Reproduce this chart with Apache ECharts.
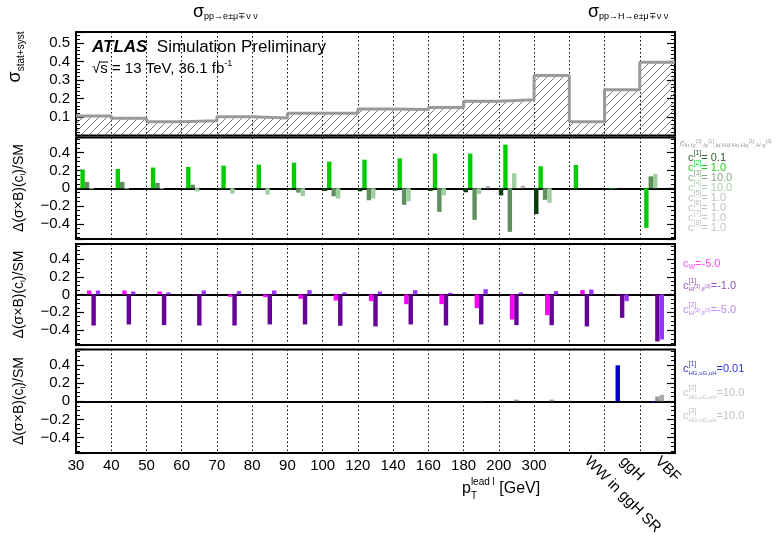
<!DOCTYPE html>
<html><head><meta charset="utf-8">
<script src="https://cdn.jsdelivr.net/npm/echarts@6/dist/echarts.min.js"></script>
<style>html,body{margin:0;padding:0;background:#fff}#c{width:783px;height:537px}</style>
</head><body><div id="c"></div>
<script>
// ---------------- DATA ----------------
const categories = ['30-40','40-50','50-60','60-70','70-80','80-90','90-100','100-120','120-140','140-160','160-180','180-200','200-300','300+','WW in ggH SR','ggH','VBF'];
const ptTickLabels = ['30','40','50','60','70','80','90','100','120','140','160','180','200','300'];
const sigmaStatSyst = [0.105,0.093,0.075,0.080,0.102,0.095,0.120,0.120,0.143,0.141,0.152,0.185,0.194,0.325,0.075,0.248,0.397];

// panel 2: c_{lu,lq(3),lq(1),ld,Hd,Hu,Hq(1),Hq(3)}
const cLu1 = [-0.003,-0.003,-0.004,-0.010,-0.011,-0.015,-0.020,-0.030,-0.034,-0.026,-0.030,-0.045,-0.080,-0.290,-0.010,-0.005,-0.012];
const cLu2 = [0.209,0.217,0.232,0.240,0.254,0.265,0.288,0.299,0.321,0.336,0.389,0.389,0.490,0.247,0.262,-0.008,-0.445];
const cLu3 = [0.071,0.071,0.060,0.040,-0.005,-0.005,-0.049,-0.090,-0.135,-0.187,-0.265,-0.355,-0.490,-0.130,0.000,-0.004,0.134];
const cLu4 = [-0.010,-0.010,-0.010,-0.037,-0.060,-0.071,-0.090,-0.116,-0.116,-0.146,-0.080,-0.064,0.168,-0.164,0.000,0.000,0.160];
const cLu5 = [0,0,0,0,0,0,0,0,0,0,0,0.004,0.004,0,0,0,0];
const cLu6 = [0,0,0,0,0,0,0,0,0,0,0,0.025,0.030,0,0,0,0];
const cLu7 = [0,0,0,0,0,0,0,0,0,0,0,0,0,0,0,0,0];
const cLu8 = [0,0,0,0,0,0,0,0,0,0,0,0,0,0,0,0,0];
const lg2Values = ['0.1','1.0','10.0','10.0','1.0','1.0','1.0','1.0'];

// panel 3
const cW   = [0.045,0.045,0.034,-0.005,-0.026,-0.030,-0.049,-0.068,-0.075,-0.109,-0.109,-0.154,-0.282,-0.233,0.049,-0.005,-0.005];
const cHl1 = [-0.350,-0.338,-0.346,-0.350,-0.350,-0.338,-0.338,-0.353,-0.360,-0.338,-0.350,-0.338,-0.346,-0.346,-0.360,-0.263,-0.530];
const cHl2 = [0.045,0.034,0.023,0.045,0.038,0.045,0.049,0.023,0.034,0.049,0.019,0.060,0.023,0.038,0.056,-0.075,-0.508];

// panel 4
const cHG1 = [0.003,0,0,0,0,0,0,0,0,0,0,0,0,0,0,0.396,-0.012];
const cHG2 = [0,0,0,0,0,0,0,0,0,0,0,0.005,0.018,0.018,0,0,0.052];
const cHG3 = [0,0,0,0,0,0,0,0,0,0,0,0,0,0,0,0,0.070];

// ---------------- RENDER ----------------
const FONT = '"Liberation Sans", Arial, Helvetica, sans-serif';
const chart = echarts.init(document.getElementById('c'), null, {renderer:'canvas', width:783, height:537});

const mctx = document.createElement('canvas').getContext('2d');
function mw(t, s, o) { o = o || {}; mctx.font = (o.fontStyle||'') + ' ' + (o.fontWeight||'') + ' ' + s + 'px ' + FONT; return mctx.measureText(t).width; }
function compose(x, y, color, parts) {
  const els = []; let cx = x;
  for (const p of parts) {
    els.push({type:'text', x:cx, y:y + (p.dy||0), silent:true,
      style:Object.assign({text:p.t, fontSize:p.s, fontFamily:FONT, fill:p.c||color, align:'left', verticalAlign:'middle'}, p.o||{})});
    if (p.adv !== false) cx += mw(p.t, p.s, p.o);
  }
  return {els, width: cx - x};
}
const gfx = [];
function add(x, y, color, parts) { gfx.push(...compose(x, y, color, parts).els); }
function addRot(cx, cy, color, parts) {
  const r = compose(0, 0, color, parts);
  r.els.forEach(e => e.x -= r.width/2);
  gfx.push({type:'group', x:cx, y:cy, rotation:Math.PI/2, children:r.els});
}

// hatch pattern
const hatch = document.createElement('canvas'); hatch.width = 8; hatch.height = 8;
const hc = hatch.getContext('2d'); hc.strokeStyle = '#555'; hc.lineWidth = 0.8;
hc.beginPath(); hc.moveTo(0,8); hc.lineTo(8,0); hc.moveTo(-2,2); hc.lineTo(2,-2); hc.moveTo(6,10); hc.lineTo(10,6); hc.stroke();

const gridBase = {left:76, right:108, show:true, borderColor:'#000', borderWidth:2, backgroundColor:'rgba(0,0,0,0)', containLabel:false, outerBoundsMode:'none'};
const grids = [
  Object.assign({top:32, height:103.5}, gridBase),
  Object.assign({top:137.5, height:101.5}, gridBase),
  Object.assign({top:244, height:101}, gridBase),
  Object.assign({top:349.5, height:103.5}, gridBase)
];
const dotted = {show:true, interval:0, lineStyle:{color:'#000', width:1, type:[1.5,2.5]}};

const fmtTop = v => (v > 0.05 && Math.abs(v*10 - Math.round(v*10)) < 1e-6) ? v.toFixed(1) : '';
const fmtLow = v => { const k = v/0.2; if (Math.abs(k - Math.round(k)) > 1e-6) return ''; const r = Math.round(k)*0.2; if (Math.abs(r) < 1e-9) return '0'; return (r < 0 ? '\u2212' : '') + Math.abs(r).toFixed(1); };

function yPair(gi, min, max, fmt, interval, minorSplit) {
  const base = {type:'value', gridIndex:gi, min, max,
    axisLine:{show:false, onZero:false},
    axisTick:{show:true, inside:true, length:8, lineStyle:{color:'#000', width:1.2}},
    minorTick:{show:true, splitNumber:minorSplit, length:4, lineStyle:{color:'#000', width:1}},
    splitLine:{show:false}, minorSplitLine:{show:false}};
  if (interval) base.interval = interval; else base.splitNumber = 5;
  return [
    Object.assign({position:'left', axisLabel:{formatter:fmt, fontSize:15, color:'#000', margin:6, fontFamily:FONT}}, base),
    Object.assign({position:'right', axisLabel:{show:false}}, base)
  ];
}
const yAxes = [].concat(
  yPair(0, 0, 0.56, fmtTop, 0.1, 5),
  yPair(1, -0.57, 0.57, fmtLow, null, 4),
  yPair(2, -0.57, 0.57, fmtLow, null, 4),
  yPair(3, -0.57, 0.57, fmtLow, null, 4)
);
function catAxis(gi) {
  return {type:'category', gridIndex:gi, data:categories, boundaryGap:true,
    axisLine:{show:true, onZero:true, lineStyle:{color:'#000', width:2}},
    axisTick:{show:false}, axisLabel:{show:false}, splitLine:dotted};
}
const xAxes = [
  {type:'value', gridIndex:0, min:0, max:categories.length, interval:1,
    axisLine:{show:false, onZero:false}, axisTick:{show:false}, axisLabel:{show:false},
    splitLine:{show:true, lineStyle:{color:'#000', width:1, type:[1.5,2.5]}}},
  catAxis(1), catAxis(2), catAxis(3),
  {type:'value', gridIndex:3, position:'bottom', min:0, max:categories.length, interval:1,
    axisLine:{show:false, onZero:false}, axisTick:{show:false}, splitLine:{show:false},
    axisLabel:{fontSize:15, color:'#000', margin:5, fontFamily:FONT,
      formatter: v => (Number.isInteger(v) && v < ptTickLabels.length) ? ptTickLabels[v] : ''}},
  {type:'category', gridIndex:3, position:'bottom', data:categories, boundaryGap:true,
    axisLine:{show:false, onZero:false}, axisTick:{show:false}, splitLine:{show:false},
    axisLabel:{interval:0, rotate:-45, fontSize:15, color:'#000', margin:6, fontFamily:FONT,
      formatter:(v, i) => i >= ptTickLabels.length ? v : ''}}
];

const stepData = sigmaStatSyst.map((v, i) => [i, v]);
stepData.push([sigmaStatSyst.length, sigmaStatSyst[sigmaStatSyst.length - 1]]);

function bar(name, data, color, gi) {
  return {type:'bar', name, data, xAxisIndex:gi, yAxisIndex:gi*2, barWidth:'12.5%', barGap:'0%', itemStyle:{color}, z:3};
}
const series = [
  {type:'line', name:'sigma', xAxisIndex:0, yAxisIndex:0, step:'end', symbol:'none', data:stepData,
    lineStyle:{color:'#9a9a9a', width:3}, areaStyle:{color:{image:hatch, repeat:'repeat'}, opacity:1}, z:3},
  bar('c1', cLu1, '#0b3a0b', 1), bar('c2', cLu2, '#00cc00', 1), bar('c3', cLu3, '#5f8f5f', 1), bar('c4', cLu4, '#9fcf9f', 1),
  bar('c5', cLu5, '#a8a8a8', 1), bar('c6', cLu6, '#b4b4b4', 1), bar('c7', cLu7, '#bebebe', 1), bar('c8', cLu8, '#c8c8c8', 1),
  bar('cW', cW, '#ff00ff', 2), bar('cHl1', cHl1, '#660099', 2), bar('cHl2', cHl2, '#9933ff', 2),
  bar('cHG1', cHG1, '#0000cc', 3), bar('cHG2', cHG2, '#999999', 3), bar('cHG3', cHG3, '#aaaaaa', 3)
];

// ---------- texts ----------
add(193, 12, '#000', [{t:'\u03c3', s:18}, {t:'pp\u2192e\u00b1\u03bc\u2213\u03bd \u03bd', s:9, dy:5}]);
add(588, 12, '#000', [{t:'\u03c3', s:18}, {t:'pp\u2192H\u2192e\u00b1\u03bc\u2213\u03bd \u03bd', s:9, dy:5}]);
add(92, 47, '#000', [{t:'ATLAS', s:17, o:{fontWeight:'bold', fontStyle:'italic'}}, {t:'  Simulation Preliminary', s:17}]);
{
  const wRoot = mw('\u221a', 15), wS = mw('s', 15);
  add(92, 69, '#000', [{t:'\u221as = 13 TeV, 36.1 fb', s:15}, {t:'-1', s:9, dy:-5}]);
  gfx.push({type:'line', silent:true, shape:{x1:92 + wRoot - 0.5, y1:62, x2:92 + wRoot + wS + 0.5, y2:62}, style:{stroke:'#000', lineWidth:1}});
}
addRot(15, 57, '#000', [{t:'\u03c3', s:18}, {t:'stat+syst', s:10, dy:6}]);
[188, 294.5, 401].forEach(cy => addRot(19, cy, '#000', [{t:'\u0394(\u03c3\u00d7B)(c', s:14}, {t:'i', s:8, dy:4}, {t:')/SM', s:14}]));
add(462, 489, '#000', [{t:'p', s:16}, {t:'T', s:10, dy:7, adv:false}, {t:'lead l', s:10, dy:-7}, {t:' [GeV]', s:16}]);

// panel 2 legend
add(680, 143, '#999', [{t:'c', s:9, o:{fontStyle:'italic'}}, {t:'lu,lq', s:6, dy:2, o:{fontStyle:'italic'}}, {t:'(3)', s:5, dy:-1},
  {t:',lq', s:6, dy:2, o:{fontStyle:'italic'}}, {t:'(1)', s:5, dy:-1}, {t:',ld,Hd,Hu,Hq', s:6, dy:2, o:{fontStyle:'italic'}}, {t:'(1)', s:5, dy:-1},
  {t:',H q', s:6, dy:2, o:{fontStyle:'italic'}}, {t:'(3)', s:5, dy:-1}]);
const lg2Colors = ['#2e5e2e','#22cc22','#8aa88a','#b0d0b0','#bdbdbd','#bdbdbd','#c4c4c4','#c4c4c4'];
lg2Values.forEach((v, k) => add(688, 158 + 10*k, lg2Colors[k], [{t:'c', s:11}, {t:'[' + (k+1) + ']', s:7, dy:-5}, {t:'= ' + v, s:11}]));

// panel 3 legend
add(683, 264, '#ff44ff', [{t:'c', s:11}, {t:'W', s:7, dy:3}, {t:'=-5.0', s:11}]);
add(683, 286, '#9955bb', [{t:'c', s:11}, {t:'[1]', s:7, dy:-5, adv:false}, {t:'Hl', s:6, dy:3}, {t:'(3)', s:5, dy:1}, {t:',ll', s:6, dy:3}, {t:'(3)', s:5, dy:1}, {t:'=-1.0', s:11}]);
add(683, 310, '#bb88ee', [{t:'c', s:11}, {t:'[2]', s:7, dy:-5, adv:false}, {t:'Hl', s:6, dy:3}, {t:'(3)', s:5, dy:1}, {t:',ll', s:6, dy:3}, {t:'(3)', s:5, dy:1}, {t:'=-5.0', s:11}]);
// panel 4 legend
add(683, 369, '#3333cc', [{t:'c', s:11}, {t:'[1]', s:7, dy:-5, adv:false}, {t:'HG,uG,uH', s:6, dy:4}, {t:'=0.01', s:11}]);
add(683, 393, '#c0c0c0', [{t:'c', s:11}, {t:'[2]', s:7, dy:-5, adv:false}, {t:'HG,uG,uH', s:6, dy:4}, {t:'=10.0', s:11}]);
add(683, 416, '#c0c0c0', [{t:'c', s:11}, {t:'[3]', s:7, dy:-5, adv:false}, {t:'HG,uG,uH', s:6, dy:4}, {t:'=10.0', s:11}]);

chart.setOption({
  animation:false,
  backgroundColor:'#fff',
  textStyle:{fontFamily:FONT},
  grid:grids, xAxis:xAxes, yAxis:yAxes, series, graphic:gfx
});
</script></body></html>
